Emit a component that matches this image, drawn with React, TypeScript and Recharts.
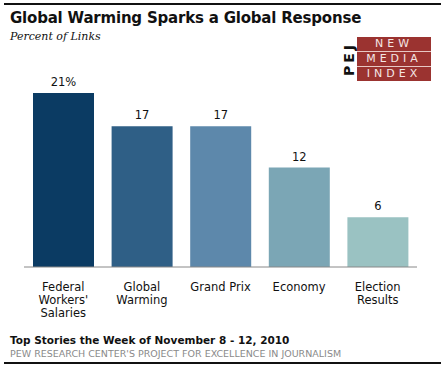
import React from 'react'
import { BarChart, Bar, XAxis, YAxis, Cell, LabelList } from 'recharts'

const categories = ['Federal Workers\' Salaries', 'Global Warming', 'Grand Prix', 'Economy', 'Election Results']
const tickLines = [
  ['Federal', 'Workers\'', 'Salaries'],
  ['Global', 'Warming'],
  ['Grand Prix'],
  ['Economy'],
  ['Election', 'Results'],
]
const values = [21, 17, 17, 12, 6]
const barColors = ['#0b3b63', '#2f5f86', '#5d88ab', '#7ba6b5', '#9ac2c2']

const data = categories.map((name, i) => ({ name, idx: i, value: values[i] }))

const FONT = 'Verdana, "DejaVu Sans", sans-serif'

const Tick = ({ x, y, payload }: any) => {
  const lines = tickLines[payload.index] || []
  return (
    <text x={x} y={y} textAnchor="middle" fontFamily={FONT} fontSize={11.5} fill="#111">
      {lines.map((l, i) => (
        <tspan key={i} x={x} dy={i === 0 ? 16 : 13}>{l}</tspan>
      ))}
    </text>
  )
}

function Logo() {
  const row: React.CSSProperties = {
    color: '#f4e6e4', fontFamily: FONT, fontSize: 11, letterSpacing: 4,
    textAlign: 'center', height: 14, lineHeight: '14px',
  }
  return (
    <div style={{ position: 'absolute', left: 339, top: 37, width: 92, height: 44 }}>
      <div style={{
        position: 'absolute', left: -12, top: 15, width: 44, height: 14,
        transform: 'rotate(-90deg)', fontFamily: FONT, fontWeight: 'bold', fontSize: 14,
        letterSpacing: 3, textAlign: 'center', lineHeight: '14px', color: '#111',
      }}>PEJ</div>
      <div style={{ position: 'absolute', left: 18, top: 0, width: 74, height: 44, background: '#9b3330' }}>
        <div style={{ ...row, borderBottom: '1px solid #e8c8c4' }}>NEW</div>
        <div style={{ ...row, borderBottom: '1px solid #e8c8c4' }}>MEDIA</div>
        <div style={row}>INDEX</div>
      </div>
    </div>
  )
}

export default function App() {
  return (
    <div style={{ position: 'absolute', left: 0, top: 0, width: 445, height: 367, background: '#fff', overflow: 'hidden' }}>
      <div style={{ position: 'absolute', left: 4, top: 3, width: 437, borderTop: '2px solid #111' }} />
      <div style={{ position: 'absolute', left: 10, top: 9, fontFamily: FONT, fontWeight: 'bold', fontSize: 15, letterSpacing: -0.2, color: '#111', whiteSpace: 'nowrap' }}>
        Global Warming Sparks a Global Response
      </div>
      <div style={{ position: 'absolute', left: 10, top: 30, fontFamily: 'Georgia, "DejaVu Serif", serif', fontStyle: 'italic', fontSize: 11, color: '#111' }}>
        Percent of Links
      </div>
      <Logo />
      <div style={{ position: 'absolute', left: 0, top: 0 }}>
        <BarChart width={445} height={367} data={data} margin={{ top: 93, right: 28, left: 24, bottom: 40 }}>
          <XAxis dataKey="name" axisLine={{ stroke: '#888' }} tickLine={false} tick={<Tick />} interval={0} height={60} />
          <YAxis hide domain={[0, 21]} />
          <Bar dataKey="value" barSize={61} isAnimationActive={false}>
            {data.map((d) => (
              <Cell key={d.name} fill={barColors[d.idx]} />
            ))}
            <LabelList
              dataKey="value"
              position="top"
              offset={7}
              formatter={(v: any) => (v === 21 ? `${v}%` : `${v}`)}
              style={{ fontFamily: FONT, fontSize: 11.5, fill: '#111' }}
            />
          </Bar>
        </BarChart>
      </div>
      <div style={{ position: 'absolute', left: 10, top: 334, fontFamily: FONT, fontWeight: 'bold', fontSize: 10.5, color: '#111', whiteSpace: 'nowrap' }}>
        Top Stories the Week of November 8 - 12, 2010
      </div>
      <div style={{ position: 'absolute', left: 10, top: 348, fontFamily: FONT, fontSize: 9.5, color: '#8a8a8a', whiteSpace: 'nowrap' }}>
        PEW RESEARCH CENTER'S PROJECT FOR EXCELLENCE IN JOURNALISM
      </div>
      <div style={{ position: 'absolute', left: 4, top: 362, width: 437, borderTop: '2px solid #111' }} />
    </div>
  )
}
